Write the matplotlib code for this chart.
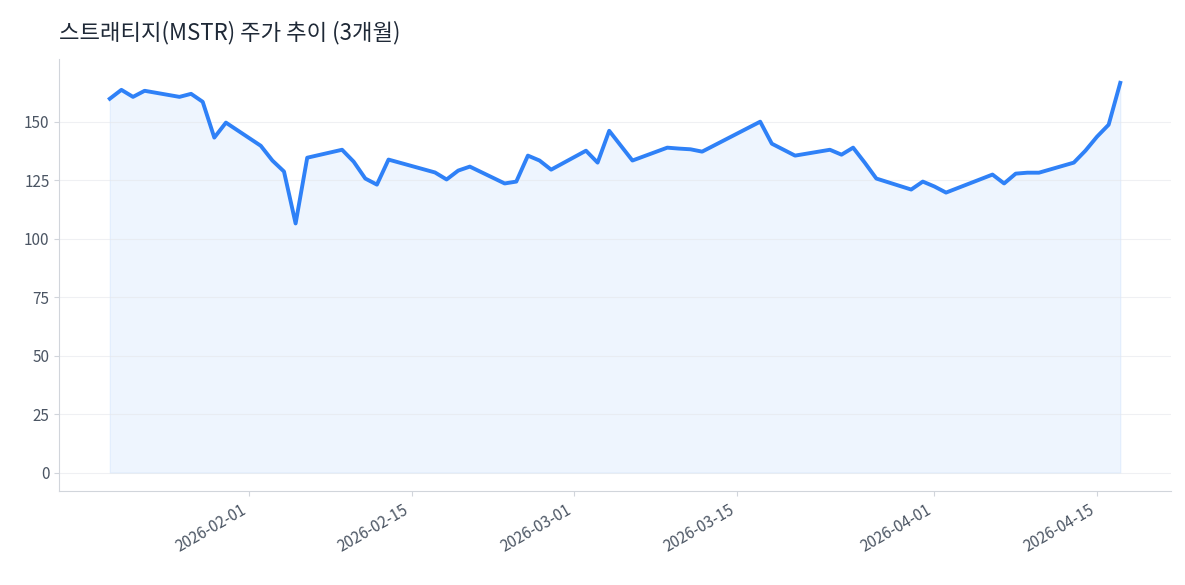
import matplotlib
matplotlib.use("Agg")
import matplotlib.pyplot as plt
import matplotlib.dates as mdates
import pandas as pd

plt.rcParams['font.family'] = ['Noto Sans CJK KR', 'DejaVu Sans']

dates = ["2026-01-20", "2026-01-21", "2026-01-22", "2026-01-23", "2026-01-26", "2026-01-27",
         "2026-01-28", "2026-01-29", "2026-01-30", "2026-02-02", "2026-02-03", "2026-02-04",
         "2026-02-05", "2026-02-06", "2026-02-09", "2026-02-10", "2026-02-11", "2026-02-12",
         "2026-02-13", "2026-02-17", "2026-02-18", "2026-02-19", "2026-02-20", "2026-02-23",
         "2026-02-24", "2026-02-25", "2026-02-26", "2026-02-27", "2026-03-02", "2026-03-03",
         "2026-03-04", "2026-03-06", "2026-03-09", "2026-03-10", "2026-03-11", "2026-03-12",
         "2026-03-17", "2026-03-18", "2026-03-20", "2026-03-23", "2026-03-24", "2026-03-25",
         "2026-03-26", "2026-03-27", "2026-03-30", "2026-03-31", "2026-04-01", "2026-04-02",
         "2026-04-06", "2026-04-07", "2026-04-08", "2026-04-09", "2026-04-10", "2026-04-13",
         "2026-04-14", "2026-04-15", "2026-04-16", "2026-04-17"]
prices = [159.8, 163.6, 160.6, 163.2, 160.6, 161.9, 158.5, 143.2, 149.6, 139.7, 133.4, 128.7,
          106.5, 134.6, 138.0, 132.9, 125.7, 123.1, 133.8, 128.3, 125.3, 129.1, 130.8, 123.6,
          124.4, 135.5, 133.4, 129.5, 137.6, 132.5, 146.1, 133.4, 138.9, 138.5, 138.2, 137.2,
          150.0, 140.6, 135.5, 138.0, 135.9, 138.9, 132.5, 125.7, 121.0, 124.4, 122.3, 119.7,
          127.4, 123.6, 127.8, 128.2, 128.2, 132.5, 137.6, 143.6, 148.7, 166.6]

x = pd.to_datetime(dates)
color = "#2f81f7"

fig, ax = plt.subplots(figsize=(11.85, 5.85), dpi=100)
ax.plot(x, prices, color=color, linewidth=2.8)
ax.fill_between(x, prices, 0, color=color, alpha=0.08)

ax.set_title("스트래티지(MSTR) 주가 추이 (3개월)", loc="left", fontsize=16, color="#1f2937", pad=14)
ax.set_ylim(-8, 177)
ax.set_yticks([0, 25, 50, 75, 100, 125, 150])
ax.xaxis.set_major_locator(mdates.DayLocator(bymonthday=[1, 15]))
ax.xaxis.set_major_formatter(mdates.DateFormatter("%Y-%m-%d"))
plt.setp(ax.get_xticklabels(), rotation=30, ha="right")
ax.tick_params(colors="#4b5563", labelsize=11)
ax.tick_params(axis="both", color="#d1d5db")
ax.grid(axis="y", color="#e5e7eb", alpha=0.6)
for s in ["top", "right"]:
    ax.spines[s].set_visible(False)
for s in ["left", "bottom"]:
    ax.spines[s].set_color("#d1d5db")

fig.subplots_adjust(left=0.05, right=0.988, top=0.9, bottom=0.16)
fig.savefig("out.png")
